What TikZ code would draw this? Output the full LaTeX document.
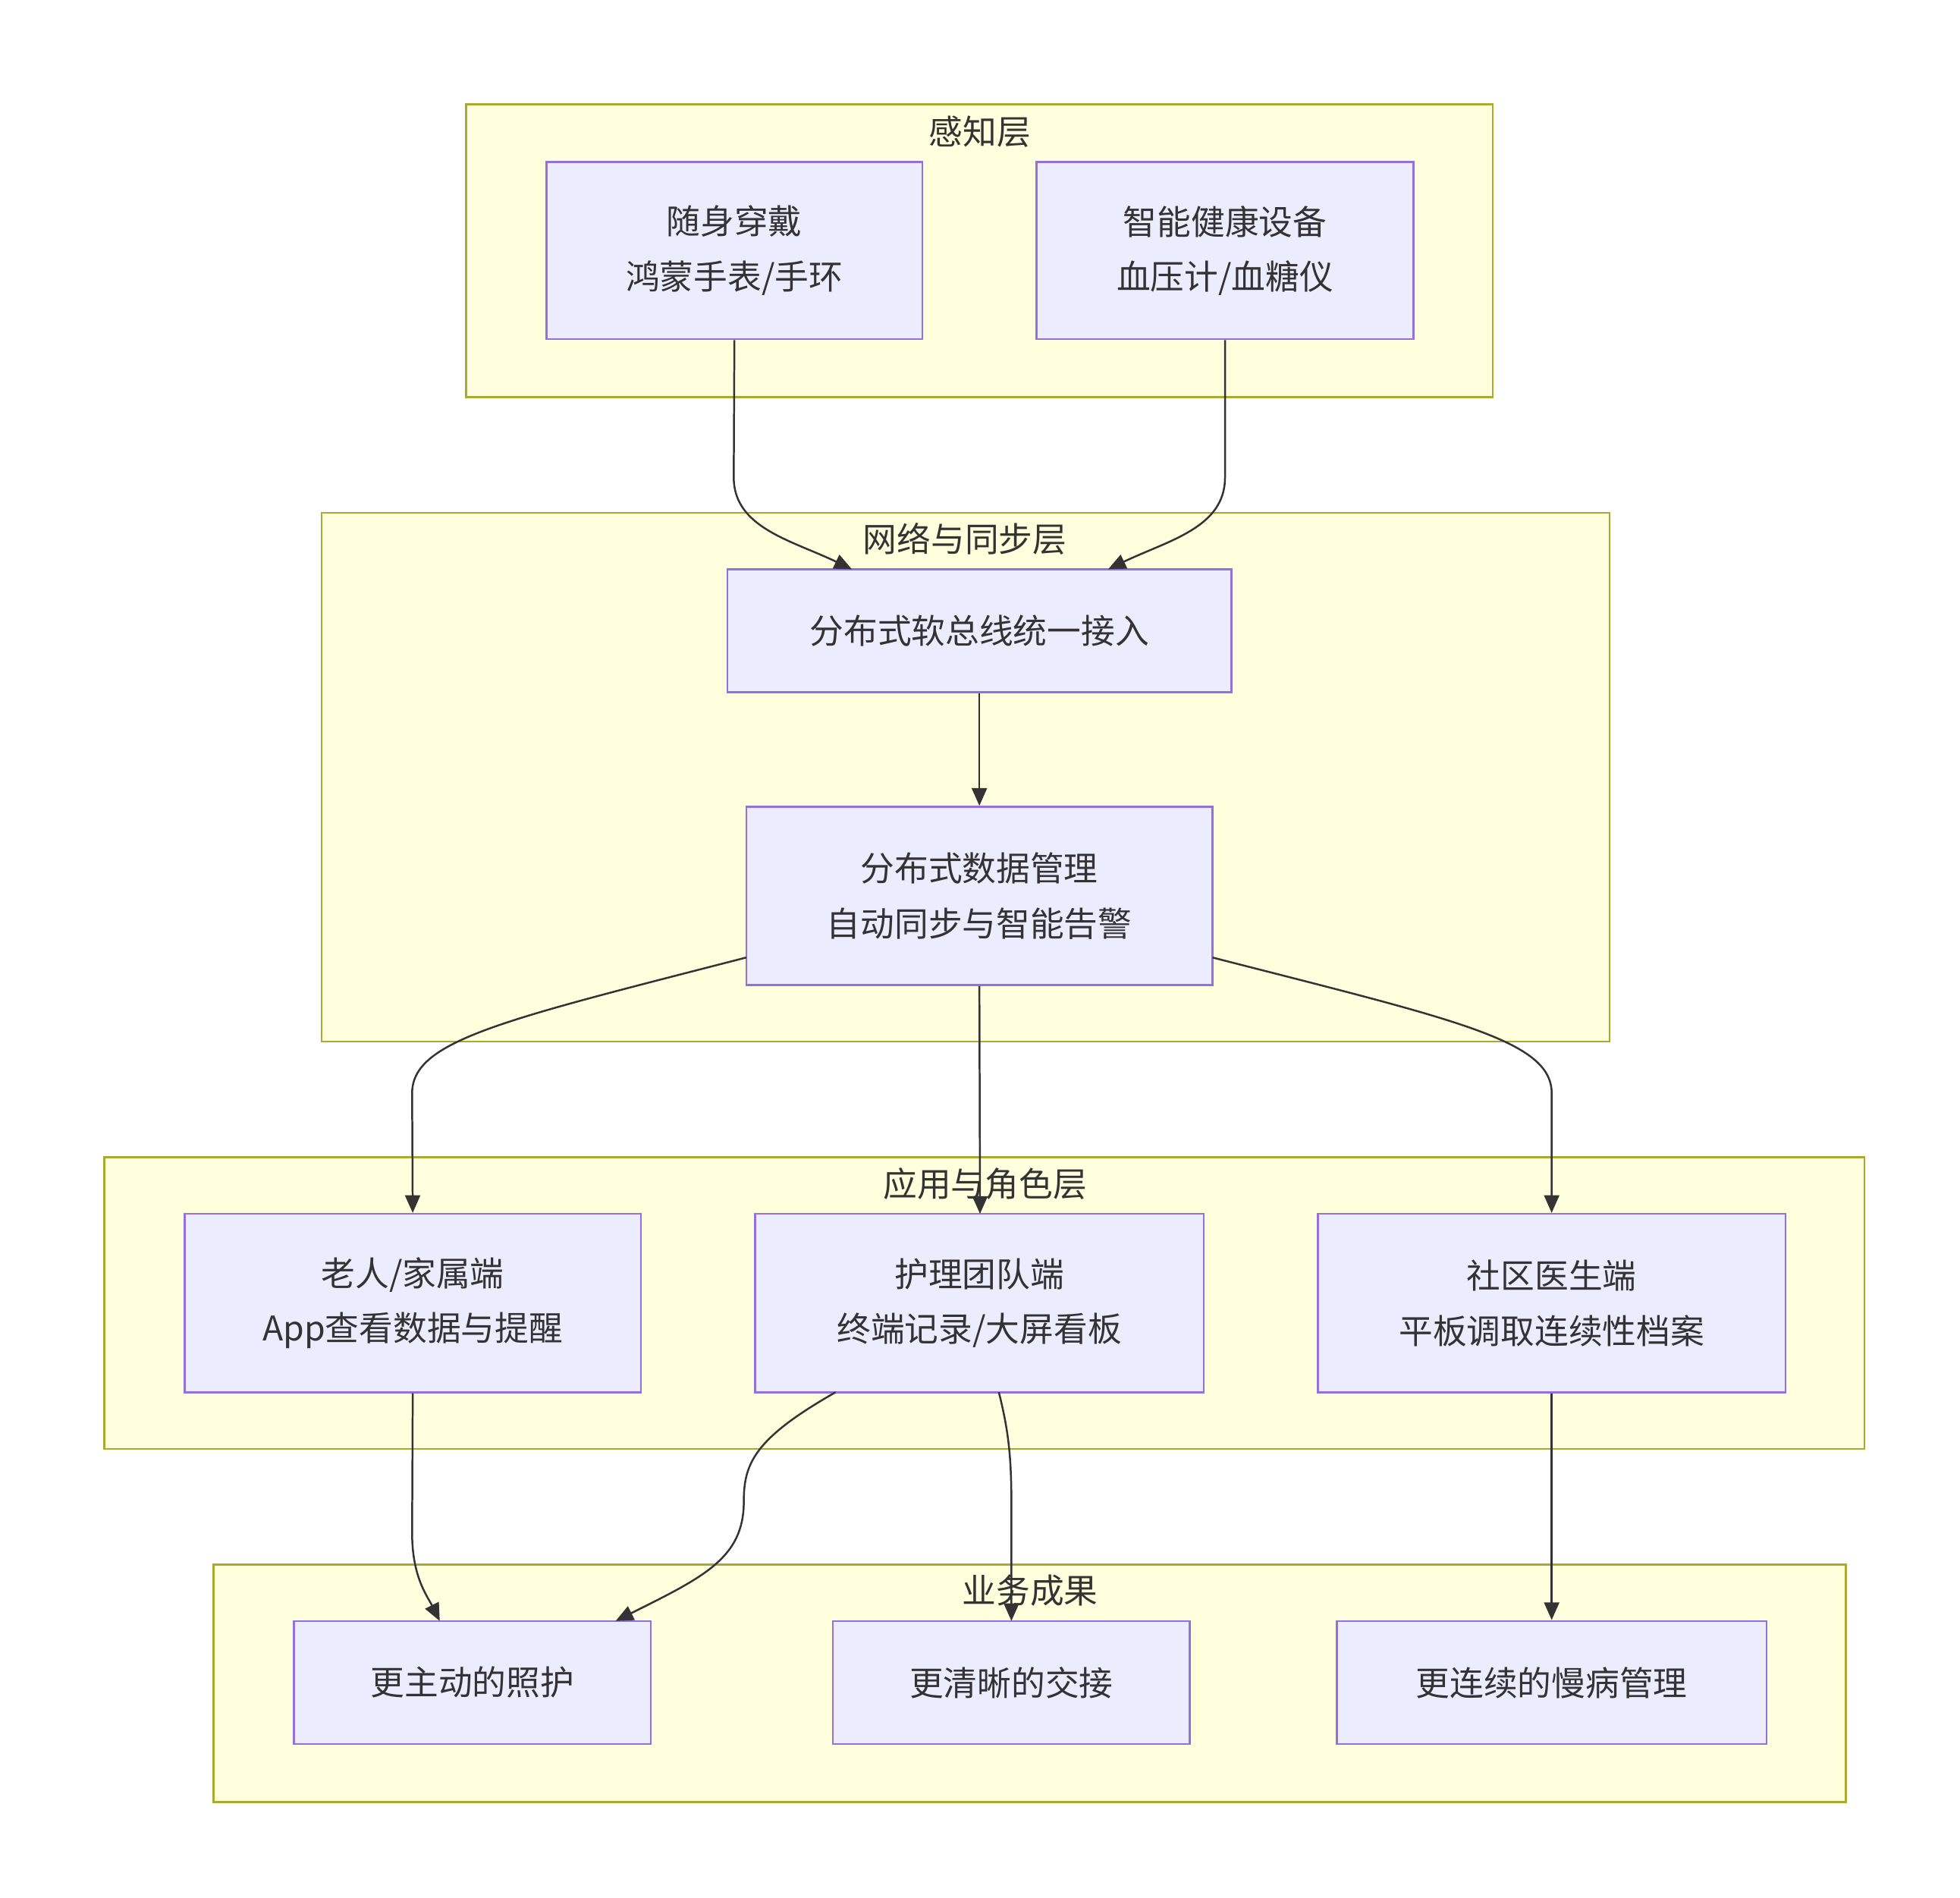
\documentclass[tikz,border=0pt]{standalone}
\usepackage{fontspec}
\setmainfont{Noto Sans CJK SC}
\usetikzlibrary{arrows.meta}
\definecolor{clf}{HTML}{FFFFDE}\definecolor{cld}{HTML}{AAAA33}
\definecolor{ndf}{HTML}{ECECFF}\definecolor{ndd}{HTML}{9370DB}
\definecolor{edg}{HTML}{333333}
\tikzset{
 cluster/.style={draw=cld,fill=clf,line width=1.5pt},
 box/.style={draw=ndd,fill=ndf,line width=1.5pt,align=center,font=\fontsize{27}{44}\selectfont,text=edg,inner sep=0},
 ttl/.style={font=\fontsize{27}{32}\selectfont,text=edg},
 conn/.style={draw=edg,line width=1.5pt,-{Triangle[length=14pt,width=12pt]}}
}
\begin{document}
\begin{tikzpicture}[x=1pt,y=-1pt]
\useasboundingbox (0,0) rectangle (1560,1510);
\newcommand{\bx}[6]{\node[box,minimum width=#4-#2,minimum height=#5-#3] (#1) at ({(#2+#4)/2},{(#3+#5)/2}) {#6};}
\draw[cluster] (371,83) rectangle (1188,316);
\node[ttl] (t1) at (780,105) {感知层};
\draw[cluster] (256,408) rectangle (1281,829);
\node[ttl] (t2) at (768,429) {网络与同步层};
\draw[cluster] (83,921) rectangle (1484,1153);
\node[ttl] (t3) at (784,942) {应用与角色层};
\draw[cluster] (170,1245) rectangle (1469,1434);
\node[ttl] (t4) at (820,1266) {业务成果};
\bx{a}{435}{129}{734}{270}{随身穿戴\\鸿蒙手表/手环}
\bx{b}{825}{129}{1125}{270}{智能健康设备\\血压计/血糖仪}
\bx{c}{579}{453}{980}{551}{分布式软总线统一接入}
\bx{d}{594}{642}{965}{784}{分布式数据管理\\自动同步与智能告警}
\bx{e}{147}{966}{510}{1108}{老人/家属端\\App查看数据与提醒}
\bx{f}{601}{966}{958}{1108}{护理团队端\\终端记录/大屏看板}
\bx{g}{1049}{966}{1421}{1108}{社区医生端\\平板调取连续性档案}
\bx{h}{234}{1290}{518}{1388}{更主动的照护}
\bx{i}{663}{1290}{947}{1388}{更清晰的交接}
\bx{j}{1064}{1290}{1406}{1388}{更连续的慢病管理}
\coordinate (c1) at (678,453);\coordinate (c2) at (882,453);
\draw[conn] (a.south) -- (584,380) .. controls (584,420) and (630,430) .. (c1);
\draw[conn] (b.south) -- (975,380) .. controls (975,420) and (930,430) .. (c2);
\draw[conn] (c.south) -- (d.north);
\coordinate (d1) at (594,762);\coordinate (d2) at (965,762);
\draw[conn] (d1) .. controls (400,812) and (328,828) .. (328,870) -- (e.north);
\draw[conn] (d.south) -- (780,966);
\draw[conn] (d2) .. controls (1160,812) and (1235,828) .. (1235,870) -- (g.north);
\coordinate (h1) at (350,1290);\coordinate (h2) at (490,1290);
\draw[conn] (e.south) -- (328,1220) .. controls (328,1255) and (340,1270) .. (h1);
\coordinate (f1) at (665,1108);\coordinate (f2) at (795,1108);\coordinate (i1) at (805,1290);
\draw[conn] (f1) .. controls (600,1145) and (592,1165) .. (592,1195) .. controls (592,1240) and (560,1255) .. (h2);
\draw[conn] (f2) .. controls (803,1140) and (805,1160) .. (805,1200) -- (i1);
\draw[conn] (g.south) -- (j.north);
\end{tikzpicture}
\end{document}
